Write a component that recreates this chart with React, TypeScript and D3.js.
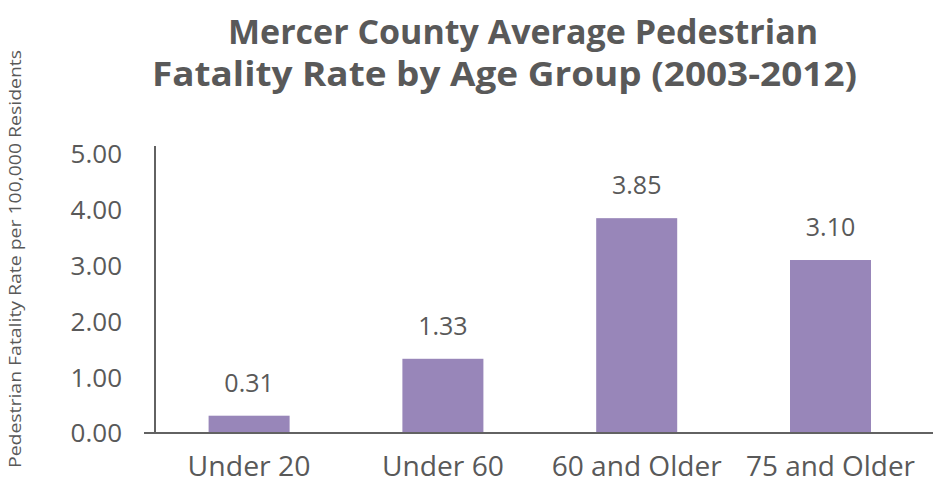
import React from "react";
import * as d3 from "d3";

const categories = ["Under 20", "Under 60", "60 and Older", "75 and Older"];
const values = [0.31, 1.33, 3.85, 3.1];
const yTicks = [0, 1, 2, 3, 4, 5];
const titleLines = ["Mercer County Average Pedestrian", "Fatality Rate by Age Group (2003-2012)"];
const yAxisTitle = "Pedestrian Fatality Rate per 100,000 Residents";

const W = 943;
const H = 485;
const TEXT = "#595959";
const AXIS = "#626262";
const BAR = "#9886B9";
const FONT = "'Open Sans', 'Noto Sans', sans-serif";

export default function App() {
  const x = d3
    .scaleBand<string>()
    .domain(categories)
    .range([152.2, 927.4])
    .paddingInner(0.582)
    .paddingOuter(0.291);
  const y = d3.scaleLinear().domain([0, 5]).range([433, 154]);
  const fmt = d3.format(".2f");

  const titleLayout = [
    { cx: 523, base: 44, len: 590 },
    { cx: 504.5, base: 86, len: 705 },
  ];
  const xLabelLens = [123, 122, 170, 169];

  return (
    <svg
      width={W}
      height={H}
      style={{ position: "absolute", left: 0, top: 0, background: "#fff" }}
      fontFamily={FONT}
    >
      <rect x={0} y={0} width={W} height={H} fill="#fff" />
      {titleLines.map((t, i) => (
        <text
          key={t}
          x={titleLayout[i].cx}
          y={titleLayout[i].base}
          textAnchor="middle"
          fontSize={34}
          fontWeight={700}
          fill={TEXT}
          textLength={titleLayout[i].len}
          lengthAdjust="spacingAndGlyphs"
        >
          {t}
        </text>
      ))}

      <text
        transform={`translate(21,259) rotate(-90)`}
        textAnchor="middle"
        fontSize={17}
        fill={TEXT}
        textLength={418}
        lengthAdjust="spacingAndGlyphs"
      >
        {yAxisTitle}
      </text>

      {yTicks.map((t) => (
        <text
          key={t}
          x={122}
          y={y(t)}
          dy="0.36em"
          textAnchor="end"
          fontSize={26}
          fill={TEXT}
        >
          {fmt(t)}
        </text>
      ))}

      {categories.map((c, i) => (
        <g key={c}>
          <rect
            x={x(c)}
            y={y(values[i])}
            width={x.bandwidth()}
            height={y(0) - y(values[i])}
            fill={BAR}
          />
          <text
            x={(x(c) as number) + x.bandwidth() / 2}
            y={y(values[i]) - 24}
            textAnchor="middle"
            fontSize={25}
            fill={TEXT}
          >
            {fmt(values[i])}
          </text>
          <text
            x={(x(c) as number) + x.bandwidth() / 2}
            y={476}
            textAnchor="middle"
            fontSize={28}
            fill={TEXT}
            textLength={xLabelLens[i]}
            lengthAdjust="spacingAndGlyphs"
          >
            {c}
          </text>
        </g>
      ))}

      <line x1={155} x2={155} y1={146} y2={y(0)} stroke={AXIS} strokeWidth={2} />
      <line x1={144} x2={933} y1={y(0)} y2={y(0)} stroke={AXIS} strokeWidth={2} />
    </svg>
  );
}
